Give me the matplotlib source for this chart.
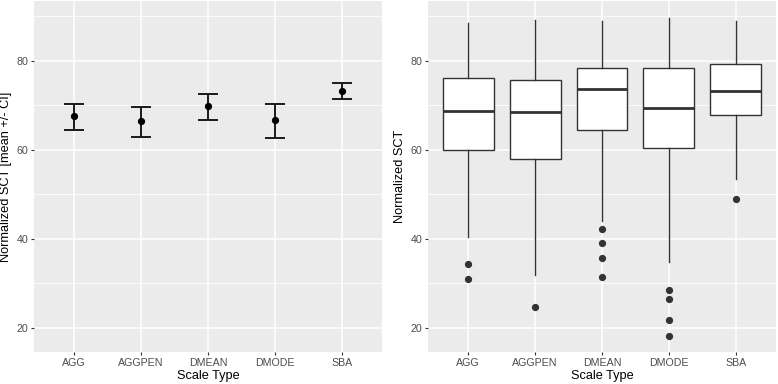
import matplotlib
matplotlib.use("Agg")
import matplotlib.pyplot as plt

plt.rcParams['font.family'] = ['Liberation Sans', 'DejaVu Sans']

categories = ["AGG", "AGGPEN", "DMEAN", "DMODE", "SBA"]

# Left panel: mean +/- CI
means = [67.5, 66.4, 69.8, 66.6, 73.1]
ci_low = [64.5, 62.9, 66.7, 62.5, 71.4]
ci_high = [70.3, 69.5, 72.6, 70.3, 75.0]

# Right panel: boxplot statistics
q1 = [59.9, 57.8, 64.5, 60.4, 67.8]
medians = [68.7, 68.5, 73.7, 69.4, 73.2]
q3 = [76.1, 75.6, 78.4, 78.4, 79.2]
whisk_lo = [40.4, 31.9, 43.9, 34.8, 53.4]
whisk_hi = [88.5, 89.2, 88.8, 89.6, 89.0]
outliers = [[34.3, 31.0], [24.6], [42.1, 38.9, 35.7, 31.3], [28.4, 26.5, 21.7, 18.1], [49.0]]

fig = plt.figure(figsize=(7.78, 3.84), dpi=100)
W, H = 778, 384
ax1 = fig.add_axes([34 / W, (H - 352) / H, 348 / W, 351 / H])
ax2 = fig.add_axes([428 / W, (H - 352) / H, 348 / W, 351 / H])

pos = list(range(1, len(categories) + 1))
dark = "#1a1a1a"

def style(ax):
    ax.set_facecolor("#EBEBEB")
    for s in ax.spines.values():
        s.set_visible(False)
    ax.set_xlim(0.4, 5.6)
    ax.set_ylim(14.5, 93.4)
    ax.set_yticks([20, 40, 60, 80])
    ax.set_yticks([30, 50, 70, 90], minor=True)
    ax.set_xticks(pos)
    ax.set_xticklabels(categories)
    ax.grid(True, which="major", color="white", linewidth=1.1)
    ax.grid(True, which="minor", axis="y", color="white", linewidth=0.55)
    ax.set_axisbelow(True)
    ax.tick_params(axis="both", which="major", length=2.5, width=0.8, color="#333333",
                   labelcolor="#4D4D4D", labelsize=7.7, pad=1.5)
    ax.tick_params(axis="both", which="minor", length=0)
    ax.set_xlabel("Scale Type", fontsize=9.2, color="black")
    ax.xaxis.set_label_coords(0.5, -0.05)

style(ax1)
style(ax2)

yerr = [[m - l for m, l in zip(means, ci_low)], [h - m for m, h in zip(means, ci_high)]]
ax1.errorbar(pos, means, yerr=yerr, fmt="o", color="black", ecolor=dark,
             elinewidth=1.4, capsize=7, capthick=1.4, markersize=4.2, zorder=3)
ax1.set_ylabel("Normalized SCT [mean +/- CI]", fontsize=9.2, color="black")
ax1.yaxis.set_label_coords(-0.063, 0.5)

stats = []
for i in range(len(categories)):
    stats.append(dict(med=medians[i], q1=q1[i], q3=q3[i], whislo=whisk_lo[i],
                      whishi=whisk_hi[i], fliers=outliers[i]))
ax2.bxp(stats, positions=pos, widths=0.76, showcaps=False, patch_artist=True,
        boxprops=dict(facecolor="white", edgecolor="#333333", linewidth=1.0),
        whiskerprops=dict(color="#333333", linewidth=1.0),
        medianprops=dict(color="#333333", linewidth=2.0),
        flierprops=dict(marker="o", markerfacecolor="#333333", markeredgecolor="#333333",
                        markersize=4.2, linestyle="none"),
        manage_ticks=False, zorder=3)
ax2.set_xticks(pos)
ax2.set_xticklabels(categories)
ax2.set_ylabel("Normalized SCT", fontsize=9.2, color="black")
ax2.yaxis.set_label_coords(-0.063, 0.5)

fig.savefig("out.png", dpi=100, facecolor="white")
